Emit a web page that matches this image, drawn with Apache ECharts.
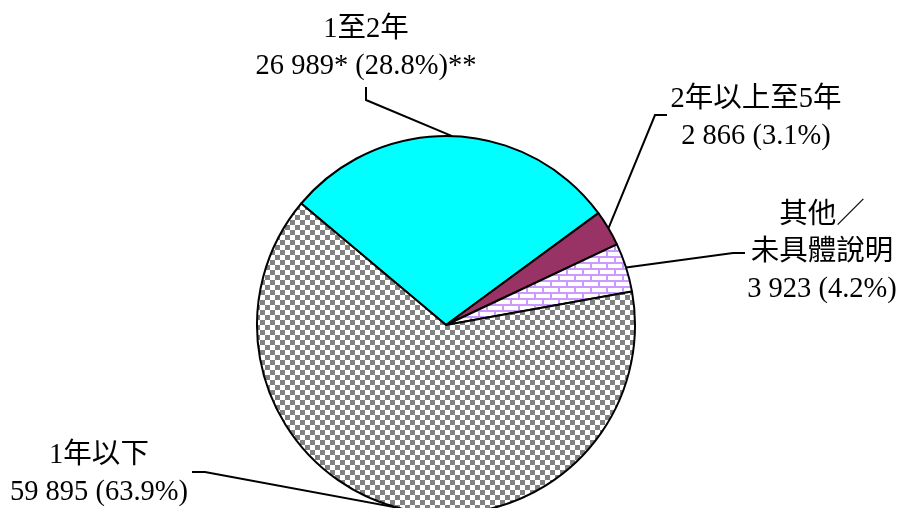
<!DOCTYPE html>
<html>
<head>
<meta charset="utf-8">
<script src="https://cdn.jsdelivr.net/npm/echarts@6/dist/echarts.min.js"></script>
<style>
  html, body { margin: 0; padding: 0; background: #fff; }
  #container { width: 901px; height: 508px; }
</style>
</head>
<body>
<div id="container"></div>
<script>
var categories = ['1至2年', '2年以上至5年', '其他／\n未具體說明', '1年以下'];
var values = [26989, 2866, 3923, 59895];
var percents = ['28.8', '3.1', '4.2', '63.9'];
var valueNotes = ['*', '', '', ''];
var percentNotes = ['**', '', '', ''];

// label placement (pixels) and the elbow of each leader line
var labelPos = [[366, 48], [756, 118], [822, 253], [99, 474]];
var elbows = [
    [[366, 100], [366, 87]],
    [[655, 115], [667, 115]],
    [[733, 253], [745, 253]],
    [[205, 472], [192, 472]]
];

var center = [446, 325];
var radius = 189;
var startAngle = 140;

function makePattern(w, h, draw) {
    var c = document.createElement('canvas');
    c.width = w;
    c.height = h;
    draw(c.getContext('2d'));
    return { image: c, repeat: 'repeat' };
}

var checker = makePattern(10, 10, function (ctx) {
    ctx.fillStyle = '#ffffff';
    ctx.fillRect(0, 0, 10, 10);
    ctx.fillStyle = '#828282';
    ctx.fillRect(0, 0, 5, 5);
    ctx.fillRect(5, 5, 5, 5);
});

var bricks = makePattern(16, 12, function (ctx) {
    ctx.fillStyle = '#cc99ff';
    ctx.fillRect(0, 0, 16, 12);
    ctx.fillStyle = '#ffffff';
    ctx.fillRect(0, 0, 14, 4);
    ctx.fillRect(8, 6, 8, 4);
    ctx.fillRect(0, 6, 6, 4);
});

var colors = ['#00ffff', '#993366', bricks, checker];

function fmt(n) {
    return String(n).replace(/\B(?=(\d{3})+(?!\d))/g, ' ');
}

var total = values.reduce(function (a, b) { return a + b; }, 0);
function edgePoint(i) {
    var before = 0;
    for (var k = 0; k < i; k++) before += values[k];
    var mid = startAngle - (before + values[i] / 2) / total * 360;
    var rad = mid * Math.PI / 180;
    return [center[0] + radius * Math.cos(rad), center[1] - radius * Math.sin(rad)];
}

var dom = document.getElementById('container');
var myChart = echarts.init(dom, null, { renderer: 'canvas' });

var option = {
    backgroundColor: '#ffffff',
    animation: false,
    series: [
        {
            type: 'pie',
            center: center,
            radius: radius,
            startAngle: startAngle,
            clockwise: true,
            avoidLabelOverlap: false,
            data: values.map(function (v, i) {
                return {
                    name: categories[i],
                    value: v,
                    itemStyle: { color: colors[i] }
                };
            }),
            itemStyle: {
                borderColor: '#000000',
                borderWidth: 2
            },
            emphasis: { disabled: true },
            label: {
                show: true,
                position: 'outside',
                color: '#000000',
                fontSize: 28.5,
                lineHeight: 37,
                fontFamily: "'Liberation Serif', 'Times New Roman', 'Noto Sans CJK TC', serif",
                align: 'center',
                formatter: function (p) {
                    var i = p.dataIndex;
                    return categories[i] + '\n' + fmt(values[i]) + valueNotes[i] +
                        ' (' + percents[i] + '%)' + percentNotes[i];
                }
            },
            labelLine: {
                show: true,
                smooth: false,
                lineStyle: { color: '#000000', width: 2 }
            },
            labelLayout: function (params) {
                var i = params.dataIndex;
                return {
                    x: labelPos[i][0],
                    y: labelPos[i][1],
                    align: 'center',
                    verticalAlign: 'middle',
                    labelLinePoints: [edgePoint(i)].concat(elbows[i])
                };
            }
        }
    ]
};

myChart.setOption(option);
</script>
</body>
</html>
